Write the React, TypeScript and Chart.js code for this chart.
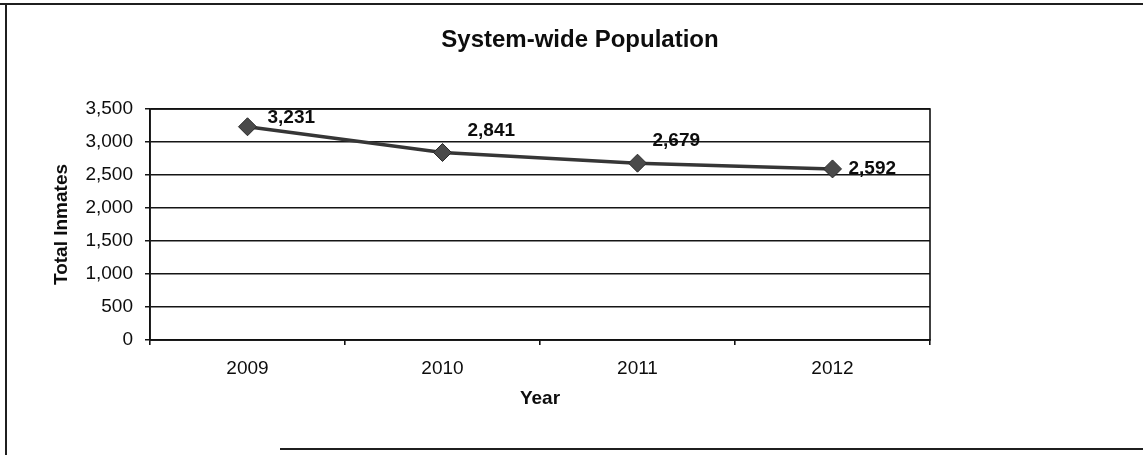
import { useEffect, useRef } from "react";
import { Chart, registerables } from "chart.js";

Chart.register(...registerables);

const years: string[] = ["2009", "2010", "2011", "2012"];
const totalInmates: number[] = [3231, 2841, 2679, 2592];
const yMin = 0;
const yMax = 3500;
const yStep = 500;
const chartTitle = "System-wide Population";
const yAxisTitle = "Total Inmates";
const xAxisTitle = "Year";

// label offsets relative to each point (style only)
const labelOffsets: [number, number][] = [
  [20, -9],
  [25, -22],
  [15, -22],
  [16, 0],
];

const FONT = "'Liberation Sans', Arial, Helvetica, sans-serif";
const INK = "#0d0d0d";

export default function App() {
  const ref = useRef<HTMLCanvasElement | null>(null);

  useEffect(() => {
    document.body.style.margin = "0";
    const canvas = ref.current;
    if (!canvas) return;

    const framePlugin = {
      id: "frame",
      beforeDraw(chart: any) {
        const { ctx, width, height } = chart;
        ctx.save();
        ctx.fillStyle = "#ffffff";
        ctx.fillRect(0, 0, width, height);
        ctx.strokeStyle = "#1f1f1f";
        ctx.lineWidth = 2;
        ctx.beginPath();
        ctx.moveTo(0, 4);
        ctx.lineTo(width, 4);
        ctx.moveTo(6, 4);
        ctx.lineTo(6, height);
        ctx.moveTo(280, height - 6);
        ctx.lineTo(width, height - 6);
        ctx.stroke();
        ctx.restore();
      },
      beforeDatasetsDraw(chart: any) {
        const { ctx, chartArea } = chart;
        ctx.save();
        ctx.strokeStyle = "#111";
        ctx.lineWidth = 1.6;
        ctx.strokeRect(
          chartArea.left,
          chartArea.top,
          chartArea.right - chartArea.left,
          chartArea.bottom - chartArea.top
        );
        ctx.restore();
      },
      afterDatasetsDraw(chart: any) {
        const { ctx } = chart;
        const meta = chart.getDatasetMeta(0);
        ctx.save();
        ctx.fillStyle = INK;
        ctx.font = `bold 19px ${FONT}`;
        ctx.textAlign = "left";
        ctx.textBaseline = "middle";
        meta.data.forEach((pt: any, i: number) => {
          const [dx, dy] = labelOffsets[i] || [15, 0];
          ctx.fillText(totalInmates[i].toLocaleString("en-US"), pt.x + dx, pt.y + dy);
        });
        // chart title
        ctx.font = `bold 24px ${FONT}`;
        ctx.textAlign = "center";
        ctx.fillText(chartTitle, 580, 40);
        ctx.restore();
      },
    };

    const chart = new Chart(canvas, {
      type: "line",
      data: {
        labels: years,
        datasets: [
          {
            data: totalInmates,
            borderColor: "#363636",
            borderWidth: 3.5,
            tension: 0,
            pointStyle: "rectRot",
            pointRadius: 9,
            pointBackgroundColor: "#4a4a4a",
            pointBorderColor: "#2a2a2a",
            pointBorderWidth: 1,
          },
        ],
      },
      options: {
        animation: false,
        responsive: false,
        devicePixelRatio: 1,
        layout: { padding: { top: 109, right: 213, bottom: 0, left: 0 } },
        plugins: {
          legend: { display: false },
          tooltip: { enabled: false },
          title: { display: false },
        },
        scales: {
          x: {
            type: "category",
            offset: true,
            grid: {
              display: true,
              offset: true,
              drawOnChartArea: false,
              drawTicks: true,
              tickLength: 5,
              color: "#111",
              lineWidth: 1.6,
            },
            border: { display: true, color: "#111", width: 1.6 },
            ticks: {
              color: INK,
              font: { family: FONT, size: 19 },
              padding: 12,
              maxRotation: 0,
            },
            title: {
              display: true,
              text: xAxisTitle,
              color: INK,
              font: { family: FONT, size: 19, weight: "bold" },
              padding: { top: 0, bottom: 45 },
            },
            afterFit(scale: any) {
              scale.height = 115;
            },
          },
          y: {
            min: yMin,
            max: yMax,
            grid: {
              color: "#151515",
              lineWidth: 1.5,
              drawTicks: true,
              tickLength: 5,
            },
            border: { display: true, color: "#111", width: 1.6 },
            ticks: {
              stepSize: yStep,
              color: INK,
              font: { family: FONT, size: 19 },
              padding: 12,
              callback: (v: any) => Number(v).toLocaleString("en-US"),
            },
            title: {
              display: true,
              text: yAxisTitle,
              color: INK,
              font: { family: FONT, size: 19, weight: "bold" },
              padding: { top: 50, bottom: 0 },
            },
            afterFit(scale: any) {
              scale.width = 150;
            },
          },
        },
      },
      plugins: [framePlugin],
    });

    return () => {
      chart.destroy();
    };
  }, []);

  return (
    <div style={{ width: 1143, height: 455, position: "relative" }}>
      <canvas ref={ref} width={1143} height={455} style={{ display: "block" }} />
    </div>
  );
}
